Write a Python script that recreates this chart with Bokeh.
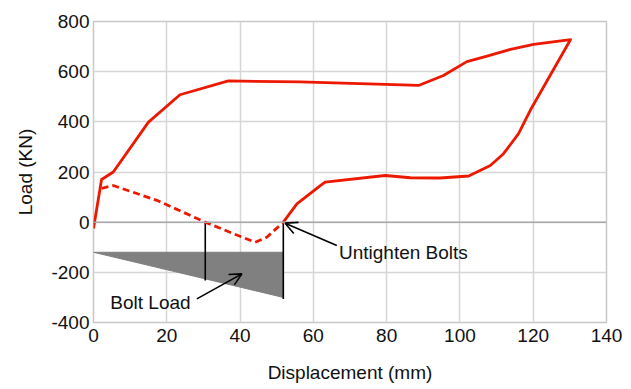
from bokeh.plotting import figure
from bokeh.models import Range1d, Span, Arrow, OpenHead, Label, FixedTicker
from bokeh.embed import file_html
from bokeh.resources import INLINE

# Solid load path (loading then unloading)
solid_x = [0, 2.2, 5.4, 15.0, 23.6, 36.8, 56.4, 79.6, 88.7, 95.5, 101.9, 107.4, 113.8, 120.1, 130.2,
           119.2, 116.0, 111.9, 108.3, 102.4, 94.6, 86.5, 79.6, 63.2, 61.9, 55.5, 51.8]
solid_y = [-25, 170, 200, 399, 508, 563, 559, 549, 545, 585, 640, 662, 689, 709, 728,
           446, 353, 273, 226, 184, 176, 177, 186, 160, 146, 73, 0]

# Dashed segment
dashed_x = [2.2, 5.4, 17.3, 30.5, 38.2, 44.1, 47.3, 51.8]
dashed_y = [135, 146, 87, 0, -46, -80, -60, 0]

# Bolt load triangle
bolt_x = [0, 51.8, 51.8]
bolt_y = [-120, -120, -300]

# Vertical marker lines
marker_x = [30.5, 51.8]
marker_bottom = [-233, -306]

x_ticks = [0, 20, 40, 60, 80, 100, 120, 140]
y_ticks = [-400, -200, 0, 200, 400, 600, 800]
y_tick_labels = ["-400", "-200", "0", "200", "400", "600", "800"]

FONT = "Liberation Sans"
RED = "#ec1800"

p = figure(frame_width=513, frame_height=301, output_backend="svg", toolbar_location=None,
           x_range=Range1d(0, 140), y_range=Range1d(-400, 800),
           min_border_left=93, min_border_top=21, min_border_right=19, min_border_bottom=0)

p.outline_line_color = "#c8c8c8"
p.outline_line_width = 1.5
p.xgrid.grid_line_color = "#d6d6d6"
p.ygrid.grid_line_color = "#d6d6d6"
p.xgrid.grid_line_width = 1.5
p.ygrid.grid_line_width = 1.5
p.xaxis.ticker = FixedTicker(ticks=x_ticks)
p.yaxis.ticker = FixedTicker(ticks=y_ticks)
p.yaxis.major_label_overrides = {t: s for t, s in zip(y_ticks, y_tick_labels)}

for ax in (p.xaxis[0], p.yaxis[0]):
    ax.axis_line_color = None
    ax.major_tick_line_color = None
    ax.minor_tick_line_color = None
    ax.major_tick_in = 0
    ax.major_tick_out = 0
    ax.major_label_text_font = FONT
    ax.major_label_text_font_size = "19px"
    ax.major_label_text_color = "#111111"
    ax.axis_label_text_font = FONT
    ax.axis_label_text_font_size = "19px"
    ax.axis_label_text_font_style = "normal"
    ax.axis_label_text_color = "#111111"

p.xaxis.axis_label = "Displacement (mm)"
p.yaxis.axis_label = "Load (KN)"
p.xaxis.major_label_standoff = 6
p.yaxis.major_label_standoff = 4
p.xaxis.axis_label_standoff = 17
p.yaxis.axis_label_standoff = 12

p.add_layout(Span(location=0, dimension="width", line_color="#a8a8a8", line_width=1.5))

p.patch(bolt_x, bolt_y, fill_color="#808080", line_color="#808080", line_width=1)

for mx, mb in zip(marker_x, marker_bottom):
    p.segment(x0=[mx], y0=[0], x1=[mx], y1=[mb], line_color="black", line_width=1.6)

p.line(solid_x, solid_y, line_color=RED, line_width=2.8, line_join="round")
p.line(dashed_x, dashed_y, line_color=RED, line_width=2.8, line_dash="7 4")

p.add_layout(Arrow(end=OpenHead(size=12, line_width=1.6, line_color="black"),
                   x_start=28.2, y_start=-306, x_end=40.5, y_end=-206,
                   line_width=1.6, line_color="black"))
p.add_layout(Arrow(end=OpenHead(size=12, line_width=1.6, line_color="black"),
                   x_start=66.4, y_start=-93, x_end=52.3, y_end=-4,
                   line_width=1.6, line_color="black"))

p.add_layout(Label(x=4.6, y=-322, text="Bolt Load", text_font=FONT, text_font_size="19px",
                   text_baseline="middle", text_color="#111111"))
p.add_layout(Label(x=67.0, y=-120, text="Untighten Bolts", text_font=FONT, text_font_size="19px",
                   text_baseline="middle", text_color="#111111"))

open("out.html", "w").write(file_html(p, INLINE))
